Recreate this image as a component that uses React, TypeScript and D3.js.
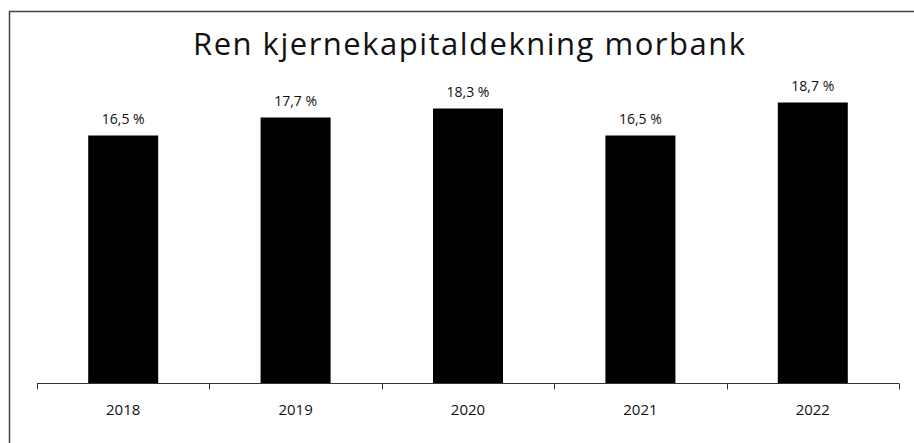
import * as d3 from 'd3';
import * as React from 'react';

const { useRef, useEffect } = React;

const width = 914;
const height = 443;
const margin = { top: 83, right: 15, bottom: 60, left: 37 };

const title = 'Ren kjernekapitaldekning morbank';
const years = ['2018', '2019', '2020', '2021', '2022'];
const values = [16.5, 17.7, 18.3, 16.5, 18.7];

const fmt = (v: number) => `${v.toFixed(1).replace('.', ',')} %`;

export default () => {
  const rootRef = useRef<SVGSVGElement>(null);

  useEffect(() => {
    const svg = d3.select(rootRef.current);
    if (!rootRef.current) return;
    svg.selectAll('*').remove();

    const x = d3
      .scaleBand()
      .domain(years)
      .range([margin.left, width - margin.right])
      .padding(0);

    const barW = x.bandwidth() * 0.406;

    const y = d3
      .scaleLinear()
      .domain([0, 20])
      .range([height - margin.bottom, margin.top]);

    // frame (only top and left edges are inside the crop)
    svg
      .append('path')
      .attr('d', `M9.5,${height} V11.5 H${width}`)
      .attr('fill', 'none')
      .attr('stroke', '#444')
      .attr('stroke-width', 1.5);

    svg
      .append('text')
      .attr('x', 469)
      .attr('y', 55)
      .attr('text-anchor', 'middle')
      .attr('font-family', '"Open Sans", sans-serif')
      .attr('font-weight', 400)
      .attr('font-size', 31)
      .attr('textLength', 552)
      .attr('lengthAdjust', 'spacing')
      .attr('fill', '#111')
      .text(title);

    const data = years.map((year, i) => ({ year, value: values[i] }));

    svg
      .append('g')
      .selectAll('rect')
      .data(data)
      .join('rect')
      .attr('x', d => (x(d.year) as number) + (x.bandwidth() - barW) / 2)
      .attr('y', d => y(d.value))
      .attr('width', barW)
      .attr('height', d => y(0) - y(d.value))
      .attr('fill', '#000');

    svg
      .append('g')
      .attr('font-family', '"Open Sans", sans-serif')
      .attr('font-size', 14)
      .attr('text-anchor', 'middle')
      .attr('fill', '#111')
      .selectAll('text')
      .data(data)
      .join('text')
      .attr('x', d => (x(d.year) as number) + x.bandwidth() / 2)
      .attr('y', d => y(d.value) - 12)
      .text(d => fmt(d.value));

    // axis: domain line and ticks at band edges
    const base = y(0) + 0.5;
    const edges = years.map(d => x(d) as number).concat([x.range()[1]]);
    const axis = svg.append('g').attr('stroke', '#333').attr('stroke-width', 1);
    axis
      .append('line')
      .attr('x1', margin.left)
      .attr('x2', width - margin.right)
      .attr('y1', base)
      .attr('y2', base);
    axis
      .selectAll('line.tick')
      .data(edges)
      .join('line')
      .attr('class', 'tick')
      .attr('x1', d => Math.round(d) + 0.5)
      .attr('x2', d => Math.round(d) + 0.5)
      .attr('y1', base)
      .attr('y2', base + 6);

    svg
      .append('g')
      .attr('font-family', '"Open Sans", sans-serif')
      .attr('font-size', 15)
      .attr('text-anchor', 'middle')
      .attr('fill', '#111')
      .selectAll('text')
      .data(years)
      .join('text')
      .attr('x', d => (x(d) as number) + x.bandwidth() / 2)
      .attr('y', 415)
      .text(d => d);
  }, []);

  return (
    <svg
      ref={rootRef}
      width={width}
      height={height}
      viewBox={`0 0 ${width} ${height}`}
      style={{ position: 'absolute', left: 0, top: 0, background: '#fff' }}
    />
  );
};
